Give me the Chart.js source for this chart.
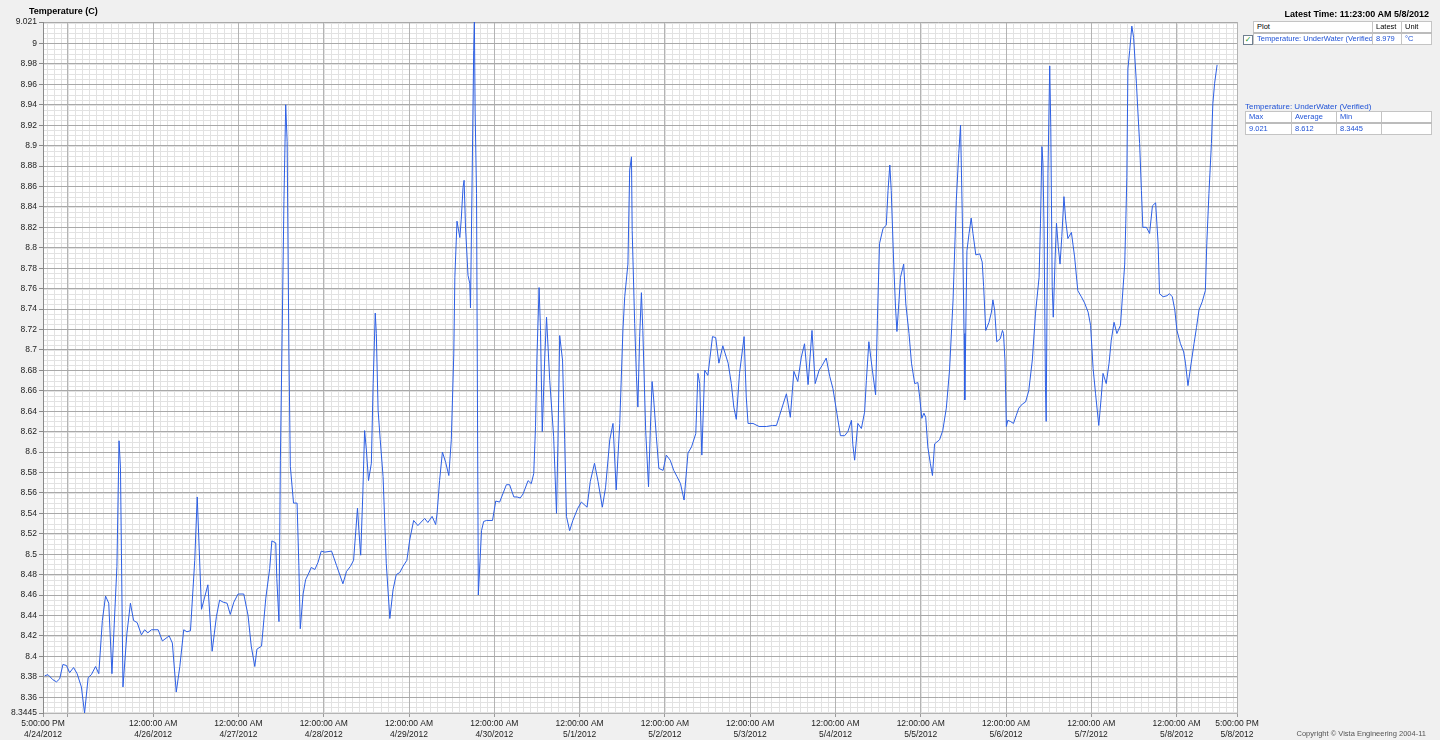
<!DOCTYPE html>
<html>
<head>
<meta charset="utf-8">
<title>Temperature (C)</title>
<script src="https://cdn.jsdelivr.net/npm/chart.js@4.4.0/dist/chart.umd.min.js"></script>
<style>
  html, body { margin: 0; padding: 0; background: #f0f0f0; }
  body { width: 1440px; height: 740px; position: relative; overflow: hidden;
         font-family: 'Liberation Sans', Arial, sans-serif; color: #000; }
  #wrap { position: absolute; left: 0; top: 0; width: 1440px; height: 740px; }
  .title { position: absolute; left: 29px; top: 6px; font-weight: bold; font-size: 9px; }
  .latest { position: absolute; right: 11px; top: 9px; font-weight: bold; font-size: 9px; }
  table { position: absolute; border-collapse: collapse; table-layout: fixed; font-size: 7.5px; }
  td { background: #fff; border: 1px solid #c4c4c4; padding: 0 3px; height: 10px; line-height: 10px;
       white-space: nowrap; overflow: hidden; }
  .blue { color: #1f52d6; }
  .hdr td { border-bottom: 2px solid #bcbcbc; }
  .check { position: absolute; left: 1243px; top: 35px; width: 8px; height: 8px; border: 1px solid #6f7f8f;
           background: #fff; color: #1c9a2a; font-size: 8px; line-height: 8px; text-align: center;
           font-weight: bold; font-family: 'DejaVu Sans', sans-serif; }
  .sub { position: absolute; left: 1245px; top: 102px; font-size: 8px; }
  .copy { position: absolute; right: 14px; top: 729px; font-size: 7.5px; color: #555; }
</style>
</head>
<body>
<div id="wrap"><canvas id="chart"></canvas></div>
<div class="title">Temperature (C)</div>
<div class="latest">Latest Time: 11:23:00 AM 5/8/2012</div>

<div class="check">✓</div>
<table style="left:1253px; top:21px; width:178px;">
  <colgroup><col style="width:119px"><col style="width:29px"><col style="width:30px"></colgroup>
  <tr class="hdr"><td>Plot</td><td>Latest</td><td>Unit</td></tr>
  <tr class="blue"><td>Temperature: UnderWater (Verified)</td><td>8.979</td><td>°C</td></tr>
</table>

<div class="sub blue">Temperature: UnderWater (Verified)</div>
<table class="blue" style="left:1245px; top:111px; width:186px;">
  <colgroup><col style="width:46px"><col style="width:45px"><col style="width:45px"><col style="width:50px"></colgroup>
  <tr class="hdr"><td>Max</td><td>Average</td><td>Min</td><td></td></tr>
  <tr><td>9.021</td><td>8.612</td><td>8.3445</td><td></td></tr>
</table>

<div class="copy">Copyright © Vista Engineering 2004-11</div>

<script>
// hours since 4/24/2012 5:00 PM
const hours = [
  0.5,1.4,2.8,3.8,4.7,5.6,6.6,7.5,8.6,9.6,
  10.8,11.7,12.7,13.6,14.8,15.7,16.7,17.6,18.5,19.4,
  20.8,21.4,21.8,22.5,23.6,24.6,25.5,26.5,27.7,28.6,
  29.5,30.5,32.4,33.6,35.5,36.4,37.5,38.5,39.6,40.5,
  41.5,42.7,43.4,44.6,45.5,46.4,47.6,48.8,49.7,50.7,
  51.8,52.7,53.7,54.9,56.5,57.7,58.6,59.6,60.2,61.5,
  62.7,63.8,64.4,65.5,65.8,66.4,66.8,67.3,67.8,68.3,
  68.7,69.2,69.6,70.5,71.5,72.0,72.4,73.2,73.9,74.6,
  75.5,76.5,77.4,78.3,79.3,81.2,82.6,84.4,85.4,86.5,
  87.4,88.5,88.9,89.4,90.0,90.5,91.0,91.6,92.4,92.9,
  93.5,93.8,94.3,94.9,95.7,96.6,97.6,98.5,99.4,100.4,
  101.3,102.4,103.2,104.3,105.5,107.4,108.3,109.5,110.5,110.9,
  111.6,112.4,113.3,114.2,114.9,115.6,115.9,116.5,117.3,117.7,
  118.2,118.5,118.9,119.6,120.1,120.3,120.8,121.2,121.4,121.6,
  122.0,122.5,123.4,124.0,124.8,126.5,127.4,128.5,129.4,130.4,
  131.3,132.5,133.4,134.3,135.1,136.5,137.4,138.1,138.6,139.0,
  139.6,140.0,140.5,141.2,141.7,142.6,143.7,144.5,144.9,145.4,
  146.2,146.8,147.3,148.2,149.1,150.5,151.5,153.1,154.0,155.2,
  156.2,157.4,158.3,159.5,160.4,161.3,162.3,163.2,163.7,164.6,
  165.1,165.6,165.8,166.5,167.0,167.4,167.9,168.4,168.8,169.6,
  170.4,170.9,171.4,171.8,172.6,173.3,174.5,175.4,176.5,177.5,
  178.4,179.4,180.4,181.5,182.5,183.7,184.3,184.8,185.4,186.2,
  187.1,188.4,189.3,190.2,191.3,192.8,193.7,194.4,195.1,196.0,
  197.3,197.9,198.4,199.8,201.5,203.6,205.3,206.4,207.3,208.2,
  209.2,210.3,211.3,212.4,213.4,214.3,215.3,216.4,217.3,218.4,
  219.3,220.4,221.4,222.3,223.4,224.4,225.6,226.5,227.5,227.9,
  228.4,229.3,230.3,231.2,231.7,232.4,233.4,234.3,234.8,235.4,
  236.4,237.3,237.8,238.3,238.7,239.4,239.9,240.3,240.9,241.3,
  242.2,242.8,243.7,244.4,245.3,246.2,246.7,247.3,247.9,248.4,
  249.0,249.7,250.3,250.9,251.6,252.3,253.2,254.2,255.1,256.1,
  257.0,257.7,258.2,258.7,259.2,259.4,260.0,260.6,261.2,261.7,
  262.5,263.6,264.3,264.7,265.3,266.2,266.9,267.3,267.8,268.4,
  269.4,270.0,270.3,270.7,271.1,271.5,272.2,273.1,273.9,274.6,
  275.6,276.5,277.4,278.4,279.3,280.3,280.7,281.1,281.4,281.7,
  282.1,282.3,282.8,283.3,283.6,284.0,284.3,284.8,285.2,285.7,
  286.2,286.7,287.3,287.8,288.4,289.4,290.3,291.2,292.2,293.1,
  294.1,294.8,295.5,296.2,297.1,297.8,298.3,299.2,300.0,300.6,
  301.4,302.2,303.2,303.7,304.4,304.7,305.0,305.3,305.8,306.4,
  306.9,307.7,308.1,308.6,309.1,309.5,310.5,311.4,312.2,313.1,
  313.8,314.2,315.2,316.3,317.0,317.8,318.5,319.1,320.1,321.0,
  321.5,322.2,323.1,323.9,324.6,325.3,326.2,327.1,327.5,328.1,
  328.8,329.2,329.7,330.4
];

const temps = [
  8.381,8.382,8.377,8.375,8.378,8.392,8.391,8.384,8.389,8.383,
  8.370,8.3445,8.379,8.382,8.390,8.383,8.435,8.459,8.452,8.383,
  8.488,8.611,8.585,8.370,8.422,8.452,8.435,8.433,8.421,8.426,
  8.423,8.426,8.426,8.415,8.420,8.413,8.365,8.390,8.426,8.424,
  8.425,8.494,8.556,8.446,8.458,8.470,8.405,8.439,8.455,8.453,
  8.452,8.441,8.453,8.461,8.461,8.440,8.410,8.390,8.407,8.410,
  8.457,8.486,8.513,8.511,8.476,8.434,8.592,8.716,8.845,8.940,
  8.904,8.698,8.586,8.550,8.550,8.489,8.427,8.461,8.475,8.480,
  8.487,8.485,8.492,8.503,8.502,8.503,8.489,8.471,8.483,8.488,
  8.494,8.545,8.523,8.499,8.559,8.621,8.602,8.572,8.589,8.667,
  8.736,8.716,8.641,8.612,8.576,8.491,8.437,8.465,8.480,8.482,
  8.488,8.494,8.514,8.533,8.528,8.535,8.531,8.537,8.529,8.540,
  8.572,8.600,8.590,8.577,8.612,8.696,8.771,8.826,8.810,8.828,
  8.859,8.866,8.820,8.773,8.765,8.741,8.879,8.993,9.021,8.934,
  8.853,8.460,8.523,8.532,8.533,8.533,8.552,8.551,8.559,8.568,
  8.568,8.556,8.556,8.555,8.559,8.572,8.569,8.579,8.625,8.693,
  8.761,8.719,8.620,8.693,8.732,8.670,8.615,8.540,8.608,8.714,
  8.690,8.612,8.537,8.523,8.533,8.545,8.551,8.546,8.571,8.589,
  8.571,8.546,8.565,8.612,8.628,8.563,8.628,8.720,8.752,8.784,
  8.876,8.889,8.817,8.726,8.674,8.644,8.713,8.756,8.719,8.621,
  8.566,8.621,8.669,8.654,8.615,8.584,8.582,8.597,8.592,8.582,
  8.576,8.569,8.553,8.599,8.605,8.618,8.677,8.667,8.597,8.680,
  8.675,8.713,8.712,8.687,8.704,8.687,8.667,8.644,8.632,8.677,
  8.713,8.654,8.628,8.628,8.625,8.625,8.626,8.626,8.636,8.646,
  8.657,8.634,8.679,8.669,8.693,8.706,8.666,8.719,8.667,8.680,
  8.685,8.692,8.674,8.662,8.638,8.616,8.616,8.620,8.631,8.607,
  8.592,8.628,8.623,8.639,8.670,8.708,8.680,8.656,8.729,8.804,
  8.819,8.822,8.856,8.881,8.856,8.784,8.742,8.718,8.749,8.771,
  8.784,8.745,8.716,8.687,8.667,8.668,8.654,8.633,8.638,8.634,
  8.605,8.589,8.577,8.608,8.610,8.612,8.621,8.643,8.680,8.749,
  8.846,8.892,8.920,8.830,8.716,8.651,8.797,8.814,8.829,8.814,
  8.793,8.794,8.786,8.762,8.719,8.727,8.737,8.749,8.739,8.708,
  8.711,8.719,8.716,8.690,8.625,8.631,8.630,8.628,8.636,8.643,
  8.647,8.649,8.660,8.690,8.736,8.771,8.824,8.899,8.882,8.819,
  8.664,8.630,8.873,8.978,8.918,8.762,8.732,8.788,8.824,8.801,
  8.784,8.811,8.850,8.827,8.809,8.815,8.791,8.758,8.752,8.746,
  8.737,8.724,8.682,8.657,8.626,8.654,8.677,8.667,8.687,8.709,
  8.727,8.716,8.724,8.749,8.784,8.824,8.869,8.975,8.993,9.017,
  9.006,8.961,8.934,8.902,8.856,8.820,8.820,8.814,8.841,8.844,
  8.804,8.755,8.752,8.753,8.755,8.752,8.739,8.719,8.706,8.698,
  8.687,8.665,8.687,8.706,8.722,8.739,8.747,8.758,8.804,8.853,
  8.902,8.941,8.961,8.979
];

// x axis: start, each midnight, end
const xTickHours = [0, 7, 31, 55, 79, 103, 127, 151, 175, 199, 223, 247, 271, 295, 319, 336];
const xTickTimes = ['5:00:00 PM', '', '12:00:00 AM', '12:00:00 AM', '12:00:00 AM', '12:00:00 AM',
  '12:00:00 AM', '12:00:00 AM', '12:00:00 AM', '12:00:00 AM', '12:00:00 AM', '12:00:00 AM',
  '12:00:00 AM', '12:00:00 AM', '12:00:00 AM', '5:00:00 PM'];
const xTickDates = ['4/24/2012', '', '4/26/2012', '4/27/2012', '4/28/2012', '4/29/2012', '4/30/2012',
  '5/1/2012', '5/2/2012', '5/3/2012', '5/4/2012', '5/5/2012', '5/6/2012', '5/7/2012', '5/8/2012', '5/8/2012'];

const yTickValues = [8.3445, 8.36, 8.38, 8.4, 8.42, 8.44, 8.46, 8.48, 8.5, 8.52, 8.54, 8.56, 8.58,
  8.6, 8.62, 8.64, 8.66, 8.68, 8.7, 8.72, 8.74, 8.76, 8.78, 8.8, 8.82, 8.84, 8.86, 8.88, 8.9,
  8.92, 8.94, 8.96, 8.98, 9, 9.021];

const tickFont = { family: "'Liberation Sans', Arial", size: 8.5, lineHeight: 1.3 };

// white plot background plus the fine 2 h / 0.005 grid under the main grid
const minorGrid = {
  id: 'minorGrid',
  beforeDraw(chart) {
    const { ctx, chartArea: a, scales: { x, y } } = chart;
    ctx.save();
    ctx.fillStyle = '#ffffff';
    ctx.fillRect(a.left, a.top, a.right - a.left, a.bottom - a.top);
    ctx.strokeStyle = '#e2e2e2';
    ctx.lineWidth = 1;
    ctx.beginPath();
    for (let h = 1; h < 336; h += 2) {
      const px = Math.round(x.getPixelForValue(h)) + 0.5;
      ctx.moveTo(px, a.top);
      ctx.lineTo(px, a.bottom);
    }
    for (let k = 0; 8.345 + k * 0.005 < 9.021; k++) {
      const py = Math.round(y.getPixelForValue(8.345 + k * 0.005)) + 0.5;
      ctx.moveTo(a.left, py);
      ctx.lineTo(a.right, py);
    }
    ctx.stroke();
    ctx.restore();
  }
};

new Chart(document.getElementById('chart'), {
  type: 'line',
  data: {
    datasets: [{
      label: 'Temperature: UnderWater (Verified)',
      data: hours.map((h, i) => ({ x: h, y: temps[i] })),
      borderColor: '#2d5fe4',
      borderWidth: 1,
      pointRadius: 0,
      tension: 0,
      fill: false
    }]
  },
  options: {
    responsive: true,
    maintainAspectRatio: false,
    animation: false,
    layout: { padding: { left: 0, right: 203, top: 22, bottom: 0 } },
    plugins: { legend: { display: false }, tooltip: { enabled: false } },
    scales: {
      x: {
        type: 'linear',
        min: 0,
        max: 336,
        afterBuildTicks: scale => { scale.ticks = xTickHours.map(v => ({ value: v })); },
        afterFit: scale => { scale.height = 27; scale.paddingLeft = 0; scale.paddingRight = 0; },
        ticks: {
          autoSkip: false,
          maxRotation: 0,
          padding: 1,
          color: '#222',
          font: tickFont,
          callback: (v, i) => xTickTimes[i] ? [xTickTimes[i], xTickDates[i]] : ''
        },
        grid: { color: '#b4b4b4', tickColor: '#9a9a9a', tickLength: 4 },
        border: { color: '#b4b4b4' }
      },
      y: {
        type: 'linear',
        min: 8.3445,
        max: 9.021,
        afterBuildTicks: scale => { scale.ticks = yTickValues.map(v => ({ value: v })); },
        afterFit: scale => { scale.width = 43; },
        ticks: {
          autoSkip: false,
          padding: 2,
          color: '#222',
          font: tickFont,
          callback: v => String(v)
        },
        grid: { color: '#a9a9a9', tickColor: '#8a8a8a', tickLength: 4 },
        border: { color: '#8a8a8a' }
      }
    }
  },
  plugins: [minorGrid]
});
</script>
</body>
</html>
